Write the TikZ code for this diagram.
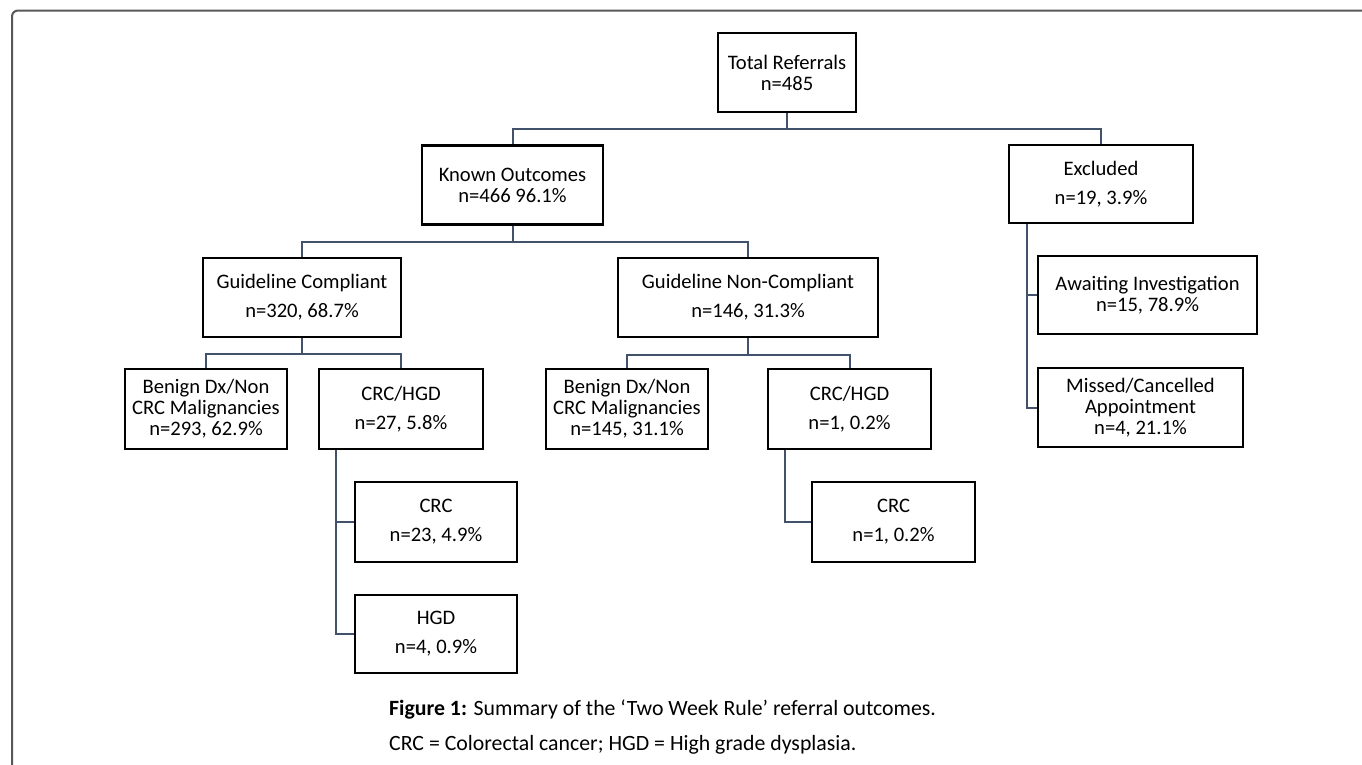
\documentclass[tikz,border=0pt]{standalone}
\usepackage{fontspec}
\setmainfont{Carlito}
\definecolor{linkblue}{RGB}{66,82,107}
\definecolor{framegray}{RGB}{88,88,88}
\begin{document}
\begin{tikzpicture}[x=1pt,y=-1pt]
	\tikzstyle{outcome} = [draw=black,line width=2.4pt,align=center,inner sep=0pt,minimum height=79,font=\fontsize{20.6}{21}\selectfont]
	\tikzstyle{link} = [draw=linkblue,line width=2pt]
	\tikzstyle{caption} = [anchor=base west,inner sep=0pt,font=\fontsize{21.8}{24}\selectfont]
	\useasboundingbox (0,0) rectangle (1362,764);
	% frame
	\draw[framegray,line width=2pt,rounded corners=6pt] (12,780) -- (12,10.5) -- (1380,10.5);
	% top levels
	\node[outcome,minimum width=138] (total) at (787,72.5) {Total Referrals\\n=485};
	\node[outcome,minimum width=181] (known) at (512.5,185) {Known Outcomes\\n=466 96.1\%};
	\node[outcome,minimum width=184,minimum height=78] (excl) at (1101,184) {Excluded\\[8pt]n=19, 3.9\%};
	% guideline groups
	\node[outcome,minimum width=198] (gc) at (302,297.5) {Guideline Compliant\\[8pt]n=320, 68.7\%};
	\node[outcome,minimum width=260] (ngc) at (748,297.5) {Guideline Non-Compliant\\[8pt]n=146, 31.3\%};
	% outcomes, compliant
	\node[outcome,minimum width=162,minimum height=80] (ben1) at (206,409) {Benign Dx/Non\\CRC Malignancies\\n=293, 62.9\%};
	\node[outcome,minimum width=164,minimum height=80] (ch1) at (401,409) {CRC/HGD\\[8pt]n=27, 5.8\%};
	\node[outcome,minimum width=162,minimum height=80] (crc1) at (436,522) {CRC\\[8pt]n=23, 4.9\%};
	\node[outcome,minimum width=162,minimum height=78] (hgd1) at (436,634) {HGD\\[8pt]n=4, 0.9\%};
	% outcomes, non-compliant
	\node[outcome,minimum width=162,minimum height=80] (ben2) at (627,409) {Benign Dx/Non\\CRC Malignancies\\n=145, 31.1\%};
	\node[outcome,minimum width=163,minimum height=80] (ch2) at (849.5,409) {CRC/HGD\\[8pt]n=1, 0.2\%};
	\node[outcome,minimum width=163,minimum height=80] (crc2) at (893.5,522) {CRC\\[8pt]n=1, 0.2\%};
	% excluded
	\node[outcome,minimum width=219,minimum height=78] (await) at (1147.5,295) {Awaiting Investigation\\n=15, 78.9\%};
	\node[outcome,minimum width=205] (missed) at (1140.5,407.5) {Missed/Cancelled\\Appointment\\n=4, 21.1\%};
	% connections
	\foreach \c in {known,excl}
		\draw[link] (total.south) -- ++(0,16) -| (\c.north);
	\foreach \c in {gc,ngc}
		\draw[link] (known.south) -- ++(0,16) -| (\c.north);
	\foreach \c in {ben1,ch1}
		\draw[link] (gc.south) -- ++(0,16) -| (\c.north);
	\foreach \c in {ben2,ch2}
		\draw[link] (ngc.south) -- ++(0,17) -| (\c.north);
	\foreach \c in {crc1,hgd1}
		\draw[link] (ch1.south west) ++(18,0) |- (\c.west);
	\draw[link] (ch2.south west) ++(18,0) |- (crc2.west);
	\foreach \c in {await,missed}
		\draw[link] (excl.south west) ++(19,0) |- (\c.west);
	% caption
	\node[caption] (cap1) at (389,715) {\textbf{Figure 1:} Summary of the ‘Two Week Rule’ referral outcomes.};
	\node[caption] (cap2) at (389,750) {CRC = Colorectal cancer; HGD = High grade dysplasia.};
\end{tikzpicture}
\end{document}
